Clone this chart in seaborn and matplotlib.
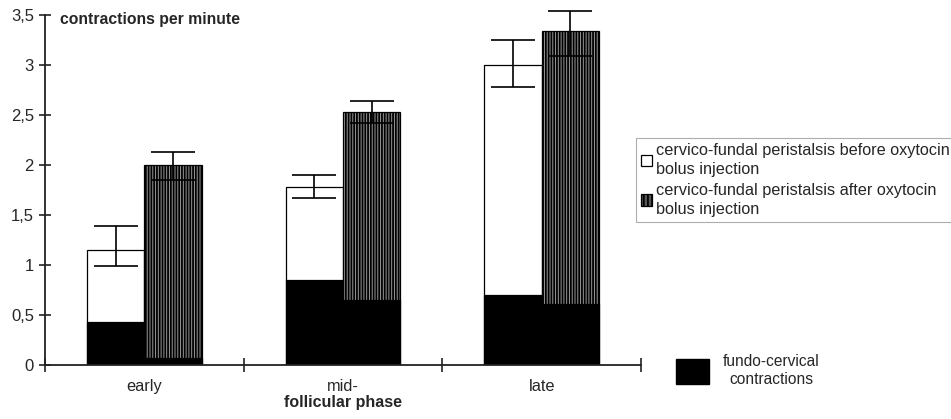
import numpy as np
import pandas as pd
import matplotlib
matplotlib.use("Agg")
import matplotlib.pyplot as plt
import seaborn as sns
from matplotlib.patches import Patch

# ---------------- data ----------------
phases = ["early", "mid-", "late"]
conditions = ["before", "after"]
total_before = [1.15, 1.78, 3.00]
total_after = [2.00, 2.53, 3.34]
fundo_before = [0.43, 0.85, 0.70]
fundo_after = [0.07, 0.65, 0.61]
err_before_low = [0.99, 1.67, 2.78]
err_before_high = [1.39, 1.90, 3.25]
err_after_low = [1.85, 2.42, 3.09]
err_after_high = [2.13, 2.64, 3.54]
y_ticks = [0, 0.5, 1, 1.5, 2, 2.5, 3, 3.5]
y_tick_labels = ["0", "0,5", "1", "1,5", "2", "2,5", "3", "3,5"]
legend_labels = [
    "cervico-fundal peristalsis before oxytocin\nbolus injection",
    "cervico-fundal peristalsis after oxytocin\nbolus injection",
]
fundo_label = "fundo-cervical\ncontractions"
y_title = "contractions per minute"
x_title = "follicular phase"

# ---------------- style ----------------
sns.set_theme(style="ticks")
plt.rcParams["font.family"] = ["Liberation Sans", "DejaVu Sans"]
plt.rcParams["hatch.linewidth"] = 1.3
HATCH = "||||||"
HATCH_FACE = "#9a9a9a"

fig = plt.figure(figsize=(9.51, 4.19), dpi=100)
ax = fig.add_axes([45 / 951, 1 - 365 / 419, (641 - 45) / 951, 350 / 419])

df_total = pd.DataFrame({
    "phase": phases * 2,
    "cond": ["before"] * 3 + ["after"] * 3,
    "value": total_before + total_after,
})
df_fundo = pd.DataFrame({
    "phase": phases * 2,
    "cond": ["before"] * 3 + ["after"] * 3,
    "value": fundo_before + fundo_after,
})

sns.barplot(data=df_total, x="phase", y="value", hue="cond", order=phases,
            hue_order=conditions, palette=["white", HATCH_FACE], width=0.576,
            edgecolor="black", linewidth=0.9, errorbar=None, saturation=1,
            legend=False, ax=ax)
for bar in ax.containers[1]:
    bar.set_hatch(HATCH)

sns.barplot(data=df_fundo, x="phase", y="value", hue="cond", order=phases,
            hue_order=conditions, palette=["black", "black"], width=0.576,
            edgecolor="black", linewidth=0.9, errorbar=None, saturation=1,
            legend=False, ax=ax)

# error bars
for cont, tot, lo, hi in [(ax.containers[0], total_before, err_before_low, err_before_high),
                          (ax.containers[1], total_after, err_after_low, err_after_high)]:
    xs = [b.get_x() + b.get_width() / 2 for b in cont]
    tot = np.array(tot); lo = np.array(lo); hi = np.array(hi)
    eb = ax.errorbar(xs, tot, yerr=[tot - lo, hi - tot], fmt="none", ecolor="black",
                     elinewidth=1.2, capsize=15.5, capthick=1.2, zorder=5)
    for art in eb.lines[1]:
        art.set_clip_on(False)
    for art in eb.lines[2]:
        art.set_clip_on(False)

# axes
ax.set_xlim(-0.5, 2.5)
ax.set_ylim(0, 3.5)
ax.set_yticks(y_ticks)
ax.set_yticklabels(y_tick_labels, fontsize=12)
ax.set_xticks(range(len(phases)))
ax.set_xticklabels(phases, fontsize=11.8)
ax.set_xticks([-0.5, 0.5, 1.5, 2.5], minor=True)
ax.tick_params(axis="x", which="major", length=0, pad=10)
ax.tick_params(axis="x", which="minor", direction="inout", length=10, width=1.2, color="#222222")
ax.tick_params(axis="y", which="major", direction="inout", length=9, width=1.2, color="#222222")
ax.set_xlabel(x_title, fontsize=11.5, fontweight="bold", labelpad=1)
ax.set_ylabel("")
sns.despine(ax=ax)
for s in ["left", "bottom"]:
    ax.spines[s].set_linewidth(1.3)
    ax.spines[s].set_color("#222222")
ax.text(0.025, 0.986, y_title, transform=ax.transAxes, fontsize=11.3,
        fontweight="bold", va="center", ha="left")

# legends
h1 = [Patch(facecolor="white", edgecolor="black", linewidth=0.9),
      Patch(facecolor="#555555", edgecolor="black", linewidth=0.9, hatch="||||")]
leg1 = fig.legend(h1, legend_labels, loc="upper left",
                  bbox_to_anchor=(636 / 951, 1 - 138 / 419), fontsize=11.7,
                  frameon=True, fancybox=False, edgecolor="#999999",
                  handlelength=0.7, handleheight=0.7, handletextpad=0.25,
                  labelspacing=0.35, borderpad=0.3, borderaxespad=0)
leg1.get_frame().set_linewidth(0.8)
for t in leg1.get_texts():
    t.set_linespacing(1.35)

leg2 = fig.legend([Patch(facecolor="black", edgecolor="black")], [fundo_label],
                  loc="upper left", bbox_to_anchor=(670 / 951, 1 - 348 / 419),
                  fontsize=11.2, frameon=False, handlelength=2.1, handleheight=2.0,
                  handletextpad=0.9, borderaxespad=0)
for t in leg2.get_texts():
    t.set_multialignment("center")

fig.savefig("out.png", dpi=100)
